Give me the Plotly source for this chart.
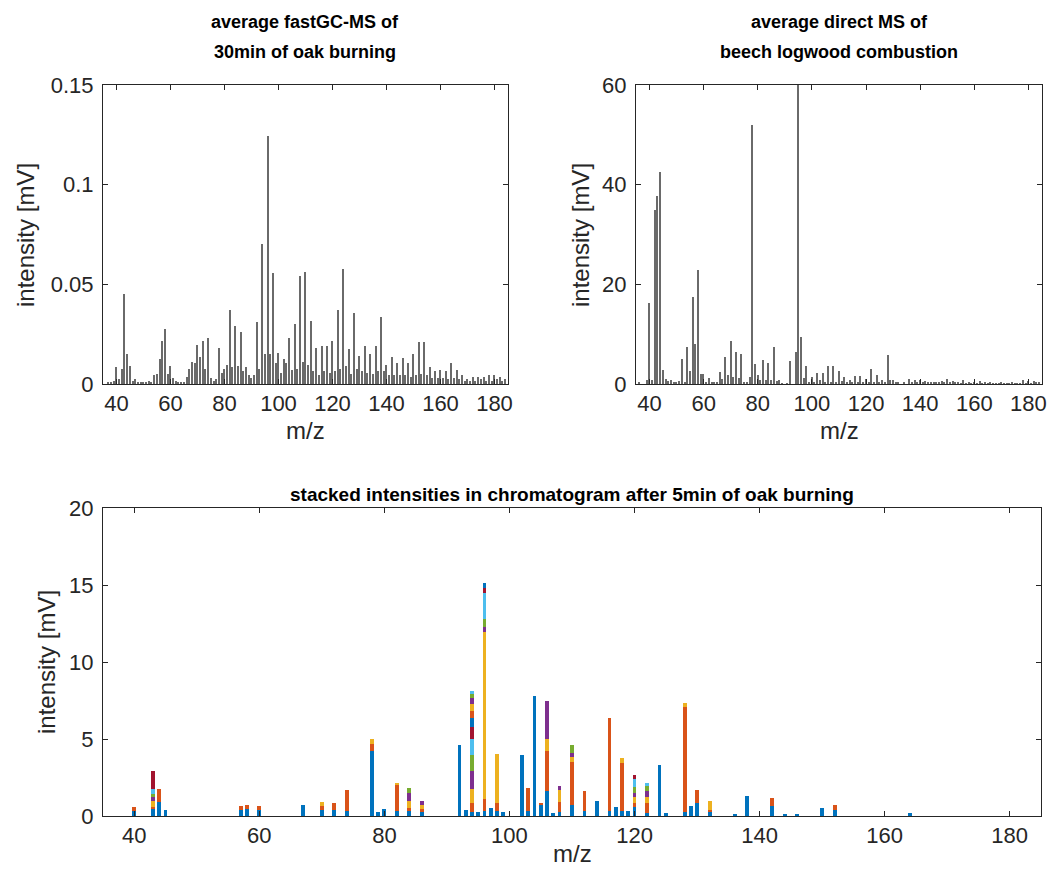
import plotly.graph_objects as go

W, H = 1051, 881

# ---------------- data ----------------
# top-left: average fastGC-MS, m/z 37..184
gc_mz = list(range(37, 185))
gc_int = [0.001, 0.001, 0.0013, 0.0083, 0.0023, 0.0075, 0.045, 0.015, 0.009, 0.0017,
          0.0023, 0.001, 0.001, 0.001, 0.001, 0.0015, 0.001, 0.0043, 0.005, 0.0123,
          0.0217, 0.0277, 0.005, 0.009, 0.003, 0.0017, 0.001, 0.001, 0.001, 0.0037,
          0.0077, 0.011, 0.0103, 0.0197, 0.0137, 0.0217, 0.0077, 0.023, 0.003, 0.0017,
          0.0023, 0.0183, 0.0057, 0.0077, 0.0097, 0.037, 0.0083, 0.029, 0.009, 0.0263,
          0.0063, 0.0083, 0.0043, 0.003, 0.0043, 0.031, 0.0077, 0.0703, 0.015, 0.1245,
          0.015, 0.0557, 0.0103, 0.0157, 0.0057, 0.0123, 0.0103, 0.023, 0.007, 0.0303,
          0.0077, 0.0543, 0.011, 0.0563, 0.0097, 0.0317, 0.0063, 0.0183, 0.0043, 0.019,
          0.0063, 0.019, 0.0057, 0.0217, 0.0063, 0.037, 0.0077, 0.0577, 0.009, 0.0177,
          0.005, 0.0357, 0.0077, 0.0143, 0.0063, 0.019, 0.0057, 0.015, 0.005, 0.019,
          0.0063, 0.0337, 0.0063, 0.0097, 0.0043, 0.0137, 0.0043, 0.0103, 0.0043, 0.013,
          0.0043, 0.0103, 0.0037, 0.015, 0.0043, 0.021, 0.005, 0.021, 0.0043, 0.0083,
          0.003, 0.0063, 0.003, 0.007, 0.003, 0.0063, 0.0023, 0.0103, 0.003, 0.007,
          0.0023, 0.0043, 0.0017, 0.0023, 0.0017, 0.0037, 0.0017, 0.0037, 0.0023, 0.0037,
          0.0017, 0.0043, 0.0017, 0.0043, 0.0023, 0.0037, 0.0017, 0.0023]

# top-right: average direct MS, m/z 36..184
ms_mz = list(range(36, 185))
ms_int = [0.3, 0, 0, 0.8, 16.3, 0.8, 35, 37.7, 42.5, 2.9,
          1.0, 0.7, 0.8, 0.4, 0.5, 0.7, 5.1, 0.5, 7.5, 2.7,
          17.4, 8.0, 22.8, 2.1, 2.1, 0.4, 1.3, 0.3, 0.3, 0.3,
          2.5, 1.1, 5.5, 1.9, 8.6, 1.4, 6.5, 1.3, 6.0, 0.5,
          0.3, 1.5, 52, 4.1, 1.9, 0.8, 4.9, 0.8, 4.3, 0.8,
          7.5, 0.7, 0.8, 0.1, 0, 0.1, 4.6, 0, 6.5, 75,
          9.4, 1.2, 3.6, 0.5, 1.4, 0.5, 2.2, 0.8, 2.2, 0.5,
          3.6, 0.5, 3.6, 0.5, 2.7, 0.7, 1.4, 0.4, 0.9, 0.4,
          1.7, 0.5, 1.7, 0.5, 1.1, 0.4, 3.0, 0.4, 1.8, 0.4,
          0.9, 0.4, 5.9, 0.9, 0.9, 0.4, 0.4, 0, 0.5, 0,
          1.0, 0.3, 0.8, 0.4, 0.8, 0.3, 0.6, 0.3, 0.5, 0.3,
          0.5, 0.4, 0.7, 0.3, 1.1, 0.4, 0.6, 0.3, 0.3, 0.2,
          0.8, 0.2, 0.5, 0.2, 0.4, 0.2, 0.7, 0.2, 0.3, 0.2,
          0.4, 0.1, 0.2, 0.1, 0.4, 0.1, 0.2, 0.1, 0.3, 0.1,
          0.2, 0.1, 0.8, 0.2, 0.7, 0.2, 0.6, 0.3, 0.4]

# bottom: stacked intensities (each compound series: m/z list + intensity list)
s1_mz = [40, 43, 44, 45, 57, 58, 60, 67, 70, 72, 74, 78, 79, 80, 82, 84, 86, 92, 93, 94,
         95, 96, 97, 98, 99, 102, 103, 104, 105, 106, 107, 108, 110, 112, 114, 116, 117,
         118, 119, 120, 122, 124, 125, 128, 129, 130, 132, 136, 138, 142, 144, 146, 150,
         152, 164]
s1_val = [0.3, 0.45, 0.93, 0.41, 0.4, 0.45, 0.4, 0.71, 0.4, 0.4, 0.3, 4.24, 0.26, 0.45,
          0.35, 0.3, 0.26, 4.59, 0.37, 0.26, 0.26, 0.35, 0.52, 0.35, 0.24, 3.96, 0.33, 7.8,
          0.7, 1.6, 0.22, 0.26, 0.74, 0.3, 1.0, 0.3, 0.56, 0.3, 0.3, 0.56, 0.17, 3.33, 0.22,
          0.26, 0.65, 0.82, 0.3, 0.12, 1.33, 0.63, 0.11, 0.11, 0.54, 0.39, 0.2]
s2_mz = [40, 43, 44, 57, 58, 60, 70, 72, 74, 78, 82, 84, 86, 94, 96, 98, 103, 105, 106,
         108, 110, 112, 116, 118, 120, 122, 128, 130, 132, 142, 152]
s2_val = [0.3, 0.15, 0.85, 0.26, 0.26, 0.23, 0.25, 0.43, 1.39, 0.43, 1.65, 0.22, 0.17,
          0.58, 0.78, 0.52, 1.47, 0.13, 2.6, 0.65, 2.77, 1.3, 6.06, 3.12, 0.26, 0.65, 6.82,
          0.87, 0.1, 0.52, 0.32]
s3_mz = [43, 70, 78, 82, 84, 86, 94, 96, 98, 106, 108, 110, 118, 120, 122, 128, 132]
s3_val = [0.4, 0.24, 0.35, 0.17, 0.43, 0.26, 0.9, 10.82, 3.18, 0.82, 0.78, 0.3, 0.35,
          0.39, 0.43, 0.26, 0.6]
s4_mz = [43, 84, 86, 94, 96, 106, 108, 110, 120, 122]
s4_val = [0.25, 0.52, 0.26, 1.19, 0.3, 2.47, 0.26, 0.3, 0.3, 0.35]
s5_mz = [43, 84, 94, 96, 110, 120, 122]
s5_val = [0.2, 0.35, 1.04, 0.56, 0.52, 0.35, 0.35]
s6_mz = [43, 94, 96, 120, 122]
s6_val = [0.3, 1.02, 1.67, 0.52, 0.17]
s7_mz = [43, 94, 96, 120]
s7_val = [1.15, 0.82, 0.32, 0.26]
s8_mz = [94, 96]
s8_val = [0.58, 0.35]
s9_mz = [94]
s9_val = [0.45]
s10_mz = [94]
s10_val = [0.43]
s11_mz = [94]
s11_val = [0.37]
s12_mz = [94]
s12_val = [0.3]
s13_mz = [94]
s13_val = [0.17]

stack_series = [(s1_mz, s1_val), (s2_mz, s2_val), (s3_mz, s3_val), (s4_mz, s4_val),
                (s5_mz, s5_val), (s6_mz, s6_val), (s7_mz, s7_val), (s8_mz, s8_val),
                (s9_mz, s9_val), (s10_mz, s10_val), (s11_mz, s11_val), (s12_mz, s12_val),
                (s13_mz, s13_val)]

mz_ticks = [40, 60, 80, 100, 120, 140, 160, 180]
gc_yticks = [0, 0.05, 0.1, 0.15]
gc_yticklabels = ["0", "0.05", "0.1", "0.15"]
ms_yticks = [0, 20, 40, 60]
st_yticks = [0, 5, 10, 15, 20]

matlab_colors = ["#0072BD", "#D95319", "#EDB120", "#7E2F8E", "#77AC30", "#4DBEEE", "#A2142F"]

# ---------------- figure ----------------
FONT = "Liberation Sans, Arial, Helvetica, sans-serif"
TXT = "#262626"
TICK_SIZE = 22
LABEL_SIZE = 24

fig = go.Figure()

fig.add_trace(go.Bar(x=gc_mz, y=gc_int, width=0.5, marker=dict(color="#6a6a6a", line=dict(width=0)),
                     xaxis="x", yaxis="y", showlegend=False))
fig.add_trace(go.Bar(x=ms_mz, y=ms_int, width=0.5, marker=dict(color="#6a6a6a", line=dict(width=0)),
                     xaxis="x2", yaxis="y2", showlegend=False))
for i, (mz, val) in enumerate(stack_series):
    fig.add_trace(go.Bar(x=mz, y=val, width=0.62,
                         marker=dict(color=matlab_colors[i % 7], line=dict(width=0)),
                         xaxis="x3", yaxis="y3", showlegend=False))


def px_x(p):
    return p / W


def px_y(p):
    return 1 - p / H


axis_common = dict(showline=True, linecolor=TXT, linewidth=1, mirror="ticks", ticks="inside",
                   ticklen=5, tickcolor=TXT, tickwidth=1, showgrid=False, zeroline=False,
                   automargin=False,
                   tickfont=dict(family=FONT, size=TICK_SIZE, color=TXT))
x_common = dict(axis_common)
y_common = dict(axis_common, ticklabelstandoff=4)

fig.update_layout(
    template="none",
    width=W, height=H, margin=dict(l=0, r=0, t=0, b=0, pad=0),
    paper_bgcolor="white", plot_bgcolor="white", barmode="stack", bargap=0,
    font=dict(family=FONT, color=TXT),
    xaxis=dict(domain=[px_x(103), px_x(508)], range=[35, 185], tickvals=mz_ticks, anchor="y", **x_common),
    yaxis=dict(domain=[px_y(384), px_y(85)], range=[0, 0.15], tickvals=gc_yticks,
               ticktext=gc_yticklabels, anchor="x", **y_common),
    xaxis2=dict(domain=[px_x(636), px_x(1042)], range=[35, 185], tickvals=mz_ticks, anchor="y2", **x_common),
    yaxis2=dict(domain=[px_y(384), px_y(85)], range=[0, 60], tickvals=ms_yticks, anchor="x2", **y_common),
    xaxis3=dict(domain=[px_x(103), px_x(1041)], range=[35, 185], tickvals=mz_ticks, anchor="y3", **x_common),
    yaxis3=dict(domain=[px_y(816), px_y(508)], range=[0, 20], tickvals=st_yticks, anchor="x3", **y_common),
)

ann = []


def add_text(text, x, y, size, bold=False, angle=0):
    ann.append(dict(text=("<b>%s</b>" % text) if bold else text, x=px_x(x), y=px_y(y),
                    xref="paper", yref="paper", showarrow=False, textangle=angle,
                    xanchor="center", yanchor="middle",
                    font=dict(family=FONT, size=size, color="black" if bold else TXT)))


add_text("average fastGC-MS of", 305, 22, 18, bold=True)
add_text("30min of oak burning", 305, 52, 18, bold=True)
add_text("average direct MS of", 839, 22, 18, bold=True)
add_text("beech logwood combustion", 839, 52, 18, bold=True)
add_text("stacked intensities in chromatogram after 5min of oak burning", 572, 494, 19, bold=True)
add_text("intensity [mV]", 25, 235, LABEL_SIZE, angle=-90)
add_text("intensity [mV]", 580, 235, LABEL_SIZE, angle=-90)
add_text("intensity [mV]", 46, 662, LABEL_SIZE, angle=-90)
add_text("m/z", 305, 431, LABEL_SIZE)
add_text("m/z", 839, 431, LABEL_SIZE)
add_text("m/z", 572, 853, LABEL_SIZE)

fig.update_layout(annotations=ann)

fig.write_html("out.html", config={"displayModeBar": False},
               post_script="document.body.style.margin='0';")
